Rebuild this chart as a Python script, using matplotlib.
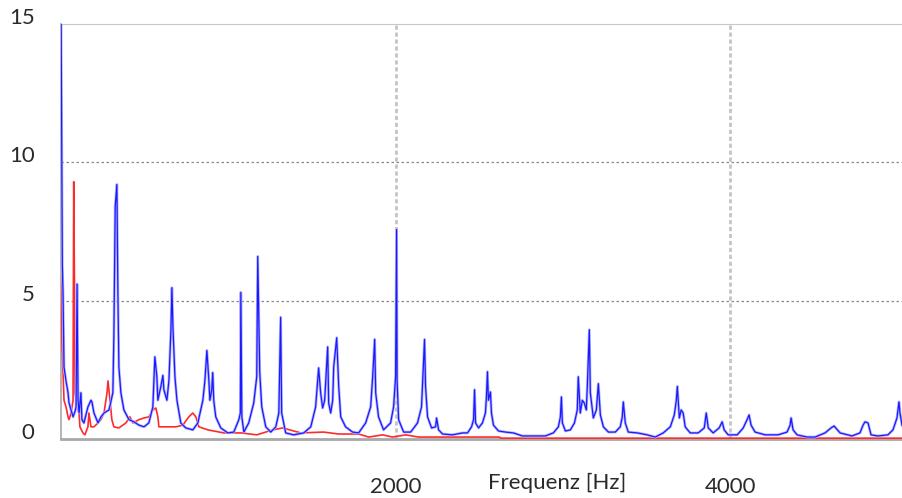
import matplotlib
matplotlib.use("Agg")
import matplotlib.pyplot as plt
import matplotlib.transforms as mtrans
import numpy as np

# blue spectrum (Hz, amplitude)
blue_freq = [0, 8, 12, 18, 30, 42, 48, 60, 72, 84, 90, 96, 102, 108, 119, 125, 137, 161, 179, 185,
             197, 221, 239, 257, 287, 310, 316, 324, 334, 340, 346, 358, 376, 406, 436, 466, 496, 525,
             549, 561, 573, 579, 597, 609, 615, 633, 645, 657, 663, 669, 681, 693, 716, 746, 788, 818,
             848, 860, 872, 884, 890, 901, 907, 913, 925, 955, 997, 1033, 1063, 1072, 1075, 1081, 1093,
             1122, 1152, 1170, 1176, 1188, 1200, 1224, 1254, 1284, 1302, 1313, 1319, 1343, 1391, 1451,
             1493, 1522, 1540, 1552, 1564, 1576, 1594, 1600, 1612, 1624, 1630, 1648, 1660, 1672, 1701,
             1743, 1779, 1821, 1851, 1863, 1875, 1881, 1898, 1928, 1970, 1988, 2000, 2006, 2009, 2018,
             2048, 2090, 2131, 2155, 2161, 2173, 2179, 2191, 2215, 2239, 2245, 2257, 2281, 2340, 2400,
             2430, 2454, 2466, 2472, 2478, 2496, 2519, 2537, 2543, 2549, 2555, 2567, 2573, 2585, 2615,
             2657, 2704, 2758, 2824, 2895, 2943, 2973, 2985, 2991, 2997, 3015, 3045, 3069, 3086, 3092,
             3104, 3116, 3128, 3140, 3146, 3158, 3164, 3176, 3182, 3200, 3212, 3224, 3242, 3272, 3313,
             3343, 3355, 3361, 3373, 3391, 3445, 3504, 3552, 3600, 3642, 3666, 3678, 3684, 3696, 3707,
             3719, 3731, 3761, 3809, 3845, 3857, 3869, 3898, 3934, 3952, 3964, 3988, 4042, 4078, 4101,
             4113, 4125, 4149, 4209, 4286, 4340, 4358, 4364, 4376, 4400, 4460, 4507, 4567, 4603, 4621,
             4657, 4728, 4776, 4794, 4806, 4824, 4842, 4883, 4943, 4973, 4997, 5009, 5015, 5027]
blue_amp = [16.0, 6.3, 5.3, 2.6, 2.1, 1.67, 1.3, 1.05, 0.8, 1.0, 1.16, 5.6, 1.4, 0.94, 1.67, 0.7, 0.58, 1.16, 1.4, 1.34,
            0.94, 0.58, 0.8, 0.94, 1.05, 1.67, 3.7, 8.4, 9.2, 5.3, 2.6, 1.67, 1.05, 0.7, 0.62, 0.5, 0.44, 0.58,
            1.16, 2.97, 2.25, 1.4, 1.9, 2.3, 1.78, 1.4, 2.1, 3.95, 5.47, 4.06, 2.25, 1.4, 0.58, 0.4, 0.33, 0.58,
            1.4, 2.1, 3.2, 2.1, 1.4, 1.78, 2.4, 1.4, 0.8, 0.4, 0.22, 0.25, 0.7, 0.94, 5.3, 0.8, 0.25,
            0.58, 1.3, 2.25, 6.6, 2.4, 1.16, 0.44, 0.25, 0.44, 0.94, 4.4, 0.94, 0.22, 0.15, 0.22,
            0.44, 1.16, 2.57, 1.67, 1.12, 1.4, 3.33, 1.3, 0.94, 1.4, 2.6, 3.66, 1.9, 0.8, 0.44,
            0.25, 0.22, 0.58, 1.16, 2.25, 3.6, 1.67, 0.8, 0.33, 0.58, 1.16, 2.25, 7.57, 2.1, 0.7,
            0.25, 0.25, 0.58, 1.16, 2.0, 3.6, 1.9, 0.8, 0.4, 0.44, 0.76, 0.33, 0.18, 0.15, 0.22,
            0.22, 0.44, 0.7, 1.78, 0.58, 0.4, 0.58, 0.94, 1.52, 2.43, 1.4, 1.7, 0.94, 0.5, 0.29,
            0.25, 0.22, 0.11, 0.11, 0.11, 0.22, 0.44, 0.8, 1.52, 0.58, 0.29, 0.33, 0.58, 1.05, 2.25,
            0.94, 1.4, 1.3, 1.05, 1.9, 3.95, 1.67, 1.05, 0.76, 1.05, 2.0, 0.87, 0.44, 0.25, 0.25,
            0.44, 0.8, 1.34, 0.58, 0.25, 0.22, 0.15, 0.07, 0.22, 0.44, 0.87, 1.4, 1.9, 0.76, 1.05,
            0.94, 0.44, 0.22, 0.22, 0.4, 0.94, 0.4, 0.22, 0.4, 0.62, 0.33, 0.15, 0.15, 0.4, 0.7,
            0.87, 0.5, 0.25, 0.15, 0.15, 0.25, 0.5, 0.76, 0.33, 0.15, 0.07, 0.07, 0.22, 0.4, 0.47,
            0.22, 0.11, 0.22, 0.5, 0.62, 0.58, 0.15, 0.11, 0.15, 0.33, 0.76, 1.34, 0.94, 0.5]

# red spectrum
red_freq = [0, 6, 18, 30, 42, 48, 60, 72, 76, 82, 84, 96, 108, 113, 131, 143, 161, 167, 179, 197,
            221, 239, 257, 275, 281, 293, 304, 316, 346, 388, 412, 430, 466, 496, 525, 549, 567,
            579, 585, 627, 687, 728, 764, 788, 806, 824, 878, 973, 1075, 1170, 1266, 1325, 1367,
            1433, 1570, 1660, 1779, 1839, 1922, 1982, 2060, 2137, 2400, 2620, 2630, 5027]
red_amp = [5.9, 3.5, 1.4, 1.16, 0.8, 0.7, 0.94, 1.4, 9.3, 4.4, 1.67, 1.16, 0.94, 0.44, 0.22, 0.15, 0.44, 0.94, 0.44, 0.44,
           0.58, 0.7, 0.94, 1.67, 2.1, 1.4, 0.7, 0.44, 0.4, 0.58, 0.8, 0.58, 0.7, 0.76, 0.8, 1.05, 1.12,
           0.8, 0.44, 0.44, 0.44, 0.5, 0.8, 0.94, 0.8, 0.44, 0.33, 0.22, 0.22, 0.15, 0.33, 0.4, 0.33,
           0.22, 0.25, 0.18, 0.18, 0.07, 0.15, 0.07, 0.15, 0.07, 0.07, 0.07, 0.03, 0.03]

y_ticks = [0, 5, 10, 15]
x_ticks = [2000, 4000]

plt.rcParams['font.family'] = ['Lato', 'DejaVu Sans']

fig = plt.figure(figsize=(9.02, 4.98), dpi=100)
ax = fig.add_axes([61/902, 59/498, 841/902, 415/498])

# grid
for g in [5, 10]:
    ax.axhline(g, color="#8a8a8a", lw=0.9, ls=(0, (2, 2)), zorder=1)
for g in x_ticks:
    ax.axvline(g, color="#c4c4c4", lw=2, ls=(0, (1.5, 1)), zorder=1)

ax.plot(red_freq, red_amp, color="#ff2a2a", lw=1.2, zorder=3)
ax.plot(blue_freq, blue_amp, color="#b4b4ff", lw=2.0, zorder=4)
ax.plot(blue_freq, blue_amp, color="#1a1aff", lw=0.9, zorder=5)

ax.set_xlim(0, 5027)
ax.set_ylim(0, 15)
ax.set_xticks(x_ticks)
ax.set_yticks(y_ticks)
ax.tick_params(axis="both", length=0, labelsize=16, colors="#2a2a2a")
ax.tick_params(axis="y", pad=19)
ax.tick_params(axis="x", pad=27)

off = mtrans.ScaledTranslation(0, 0.08, fig.dpi_scale_trans)
for lab in ax.get_yticklabels():
    lab.set_transform(lab.get_transform() + off)

ax.spines["right"].set_visible(False)
ax.spines["top"].set_color("#c8c8c8")
ax.spines["left"].set_color("#a8a8a8")
ax.spines["bottom"].set_color("#a8a8a8")
ax.spines["bottom"].set_linewidth(2)
ax.spines["left"].set_linewidth(1.2)

fig.text(557/902, 1 - 483/498, "Frequenz [Hz]", ha="center", va="center", fontsize=16, color="#2a2a2a")

fig.savefig("out.png", dpi=100)
